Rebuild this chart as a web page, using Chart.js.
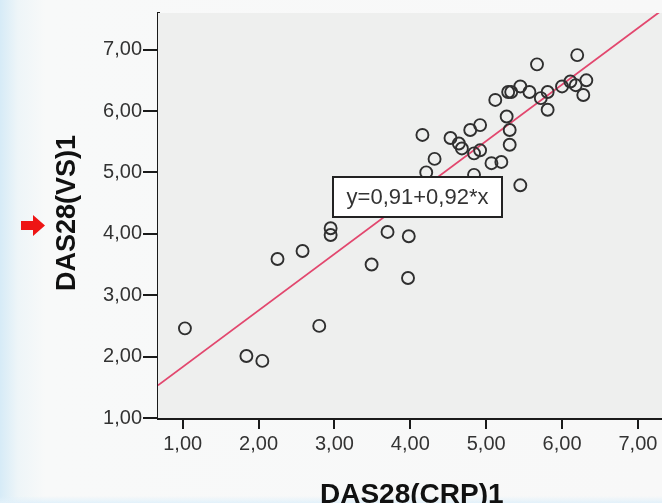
<!DOCTYPE html>
<html>
<head>
<meta charset="utf-8">
<script src="https://cdn.jsdelivr.net/npm/chart.js@4"></script>
<style>
html,body{margin:0;padding:0;width:662px;height:503px;overflow:hidden;}
body{background:
  linear-gradient(to top,#e2f1fa 0px,rgba(248,249,249,0) 7px),
  linear-gradient(to right,#d6ebf7 0px,#eef5f8 18px,#f8f9f9 45px,#f8f8f8 100%);}
#wrap{position:absolute;left:0;top:0;width:700px;height:503px;}
</style>
</head>
<body>
<div id="wrap"><canvas id="c" width="700" height="503"></canvas></div>
<script>
// Data
const crpValues = [1.03,1.84,2.05,2.25,2.58,2.95,2.95,2.80,3.49,3.70,3.98,3.97,
  4.16,4.32,4.21,4.53,4.64,4.68,4.79,4.92,4.84,4.92,4.84,
  5.31,5.31,5.27,5.07,5.20,5.45,5.12,5.29,5.33,5.45,5.57,5.67,5.72,5.81,5.81,
  6.00,6.11,6.18,6.20,6.32,6.28];
const vsValues = [2.46,2.01,1.93,3.59,3.72,4.09,3.98,2.50,3.50,4.03,3.96,3.28,
  5.61,5.22,5.00,5.56,5.47,5.39,5.69,5.77,5.31,5.36,4.96,
  5.69,5.45,5.91,5.15,5.17,4.79,6.18,6.31,6.31,6.40,6.31,6.76,6.21,6.31,6.02,
  6.40,6.48,6.42,6.91,6.50,6.26];
const fitIntercept = 0.91;
const fitSlope = 0.92;
const xTickValues = [1,2,3,4,5,6,7];
const yTickValues = [1,2,3,4,5,6,7];
const xTitle = 'DAS28(CRP)1';
const yTitle = 'DAS28(VS)1';

const X_MIN = 0.675, X_MAX = 7.714, Y_MIN = 1, Y_MAX = 7.596;
const fmt = v => v.toFixed(2).replace('.', ',');
const eqText = 'y=' + fmt(fitIntercept).replace(/0$/, '') + '+' + fmt(fitSlope).replace(/0$/, '') + '*x';

const points = crpValues.map((x, i) => ({x: x, y: vsValues[i]}));
const fitLine = [X_MIN, X_MAX].map(x => ({x: x, y: fitIntercept + fitSlope * x}));

const decor = {
  id: 'decor',
  beforeDatasetsDraw(chart) {
    const {ctx, chartArea: a} = chart;
    ctx.save();
    ctx.fillStyle = '#eeefee';
    ctx.fillRect(a.left, a.top, a.right - a.left, a.bottom - a.top);
    ctx.restore();
  },
  afterDraw(chart) {
    const {ctx, chartArea: a} = chart;
    ctx.save();
    // equation box
    const bx = a.left + 175, by = a.top + 164, bw = 169, bh = 40;
    ctx.fillStyle = '#ffffff';
    ctx.fillRect(bx, by, bw, bh);
    ctx.strokeStyle = '#222';
    ctx.lineWidth = 2;
    ctx.strokeRect(bx, by, bw, bh);
    ctx.fillStyle = '#333';
    ctx.font = '22px "Liberation Sans", Arial, sans-serif';
    ctx.textAlign = 'center';
    ctx.textBaseline = 'middle';
    ctx.fillText(eqText, bx + bw / 2, by + bh / 2 + 1);
    // axis titles
    ctx.fillStyle = '#111';
    ctx.font = 'bold 27px "Liberation Sans", Arial, sans-serif';
    ctx.save();
    ctx.translate(75, 213);
    ctx.rotate(-Math.PI / 2);
    ctx.textAlign = 'center';
    ctx.textBaseline = 'alphabetic';
    ctx.fillText(yTitle, 0, 0);
    ctx.restore();
    ctx.font = 'bold 28px "Liberation Sans", Arial, sans-serif';
    ctx.textAlign = 'left';
    ctx.textBaseline = 'alphabetic';
    ctx.fillText(xTitle, 320, 503);
    // red arrow
    ctx.fillStyle = '#ee1515';
    ctx.beginPath();
    ctx.moveTo(21, 221); ctx.lineTo(33, 221); ctx.lineTo(33, 215);
    ctx.lineTo(45, 225.5); ctx.lineTo(33, 236); ctx.lineTo(33, 230);
    ctx.lineTo(21, 230); ctx.closePath();
    ctx.fill();
    ctx.restore();
  }
};

new Chart(document.getElementById('c'), {
  type: 'scatter',
  data: {
    datasets: [
      {
        type: 'line',
        data: fitLine,
        borderColor: '#e2476e',
        borderWidth: 1.8,
        pointRadius: 0,
        fill: false,
        order: 2
      },
      {
        data: points,
        pointRadius: 6,
        pointBorderWidth: 1.9,
        pointBorderColor: '#2f2f2f',
        pointBackgroundColor: 'rgba(0,0,0,0)',
        order: 1
      }
    ]
  },
  options: {
    responsive: false,
    animation: false,
    events: [],
    layout: {padding: {left: 0, right: 0, top: 13, bottom: 0}},
    plugins: {legend: {display: false}, tooltip: {enabled: false}},
    scales: {
      x: {
        type: 'linear',
        min: X_MIN, max: X_MAX,
        afterBuildTicks: s => { s.ticks = xTickValues.map(v => ({value: v})); },
        afterFit: s => { s.height = 85; },
        border: {display: true, color: '#1a1a1a', width: 3},
        grid: {display: true, drawOnChartArea: false, drawTicks: true, tickLength: 11, color: '#1a1a1a', lineWidth: 2},
        ticks: {
          callback: v => fmt(v),
          color: '#333',
          padding: 3,
          font: {family: '"Liberation Sans", Arial, sans-serif', size: 20}
        }
      },
      y: {
        type: 'linear',
        min: Y_MIN, max: Y_MAX,
        afterBuildTicks: s => { s.ticks = yTickValues.map(v => ({value: v})); },
        afterFit: s => { s.width = 158; },
        border: {display: true, color: '#1a1a1a', width: 3},
        grid: {display: true, drawOnChartArea: false, drawTicks: true, tickLength: 15, color: '#1a1a1a', lineWidth: 2},
        ticks: {
          callback: v => fmt(v),
          color: '#333',
          padding: 1,
          font: {family: '"Liberation Sans", Arial, sans-serif', size: 20}
        }
      }
    }
  },
  plugins: [decor]
});
</script>
</body>
</html>
